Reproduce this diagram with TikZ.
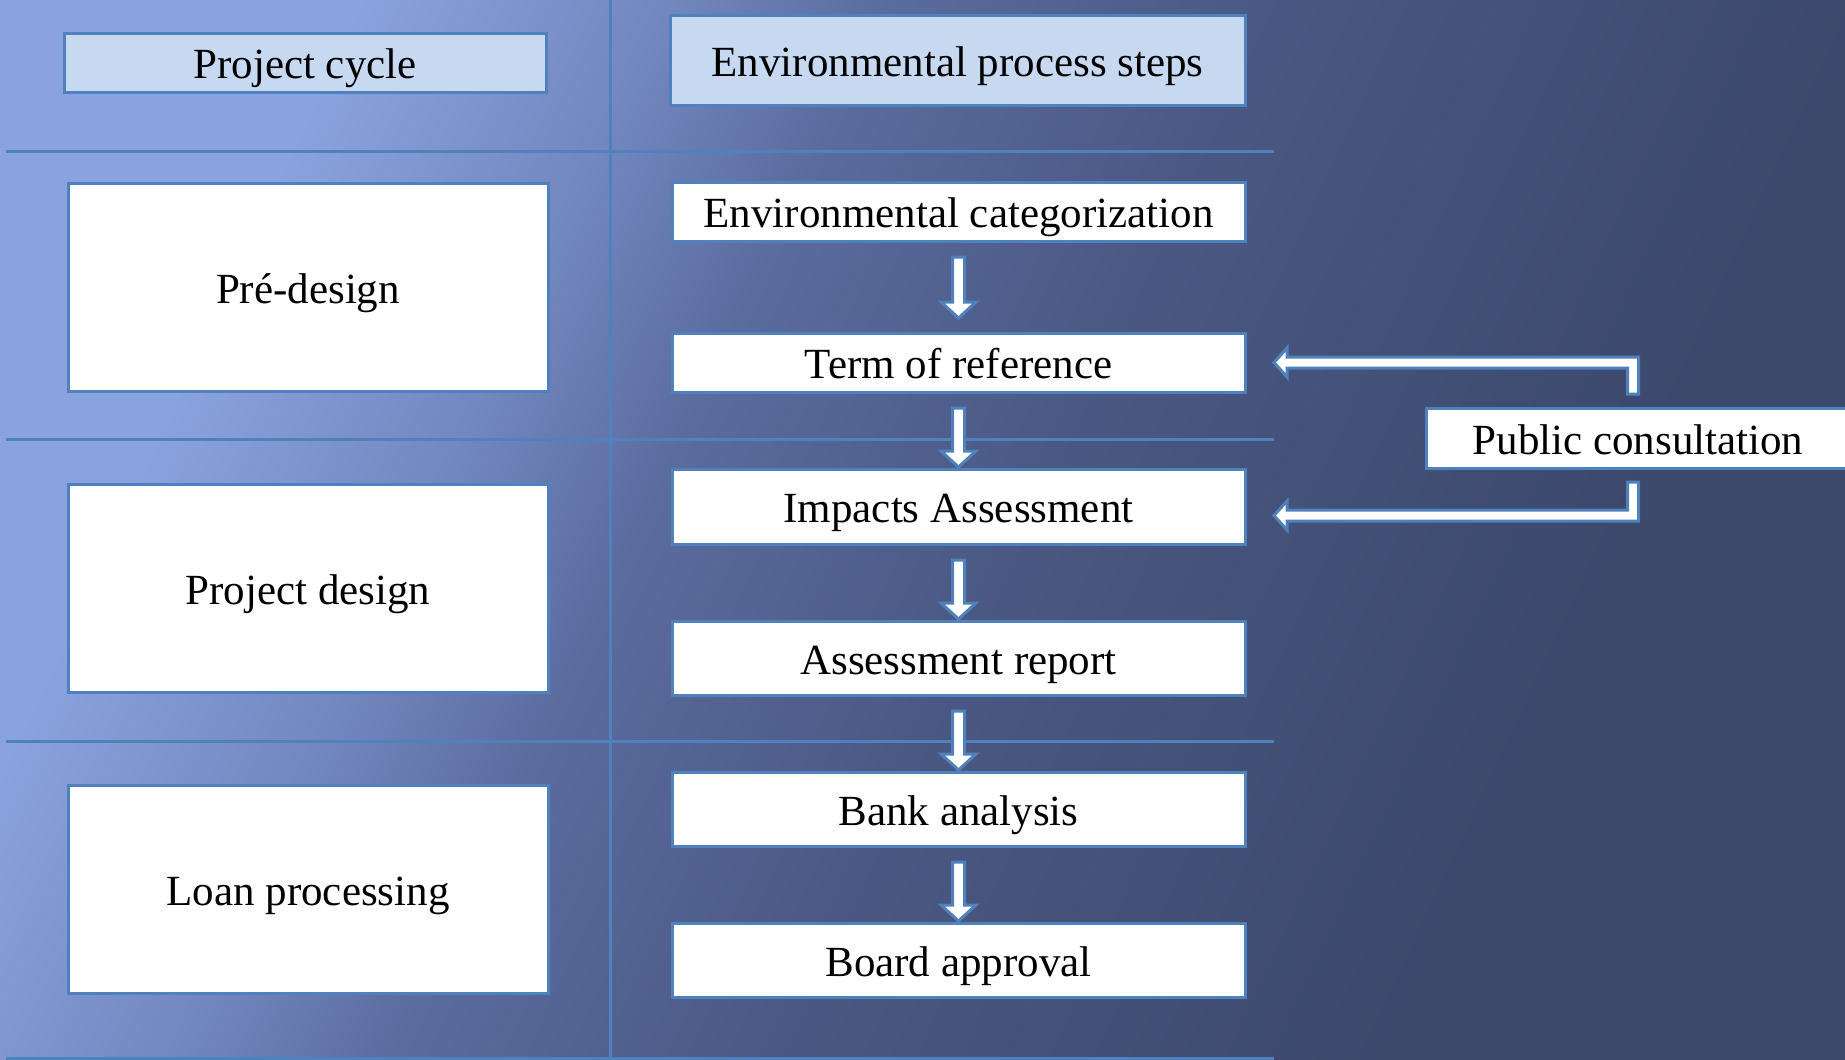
\documentclass[tikz,border=0pt]{standalone}
\usepackage{fontspec}
\setmainfont{Liberation Serif}
\usetikzlibrary{positioning,calc}

\definecolor{bordblue}{HTML}{4F81BD}
\definecolor{hdrfill}{HTML}{C6D9F1}
\definecolor{bgleft}{HTML}{8AA2DF}
\definecolor{bgmid}{HTML}{5A6B9E}
\definecolor{bgright}{HTML}{3C486C}

\pgfdeclarehorizontalshading{slidebg}{100bp}{color(0bp)=(bgleft); color(27bp)=(bgleft); color(36bp)=(bgleft!50!bgmid); color(42bp)=(bgmid); color(53bp)=(bgmid!45!bgright); color(70bp)=(bgright); color(100bp)=(bgright)}

\tikzset{
    boxbase/.style={draw=bordblue, line width=3pt, inner sep=0pt, outer sep=0pt, font=\fontsize{43}{50}\selectfont, text height=39pt, text depth=7pt},
    headbox/.style={boxbase, fill=hdrfill},
    cyclebox/.style={boxbase, fill=white, minimum width=480pt, minimum height=208pt},
    stepbox/.style={boxbase, fill=white, minimum width=573pt, minimum height=74pt},
    blockarr/.style={draw=bordblue, line width=3pt, fill=white, line join=miter},
    sepline/.style={bordblue, line width=3pt}
}

% block arrow pointing down, from one step box to the next
\newcommand{\blockdown}[3][2]{%
    \draw[blockarr] ($(#2.south)+(-6,16)$) -- ($(#3.north)+(-6,-#1-16)$)
        -- ($(#3.north)+(-17.5,-#1-16)$) -- ($(#3.north)+(0,-#1)$)
        -- ($(#3.north)+(17.5,-#1-16)$) -- ($(#3.north)+(6,-#1-16)$)
        -- ($(#2.south)+(6,16)$) -- cycle;}

\begin{document}
\begin{tikzpicture}[x=1pt, y=-1pt]
    \useasboundingbox (0,0) rectangle (1845,1060);
    \shade[shading=slidebg, shading angle=-25] (0,0) rectangle (1845,1060);

    % table lines
    \draw[sepline] (6,151) -- (1274,151);
    \draw[sepline] (6,439) -- (1274,439);
    \draw[sepline] (6,741) -- (1274,741);
    \draw[sepline] (6,1058) -- (1274,1058);
    \draw[sepline] (610,0) -- (610,1060);

    % headers
    \node[headbox, minimum width=482pt, minimum height=59pt] (cyc) at (305,62.5) {Project cycle};
    \node[headbox, minimum width=575pt, minimum height=90pt] (eps) at (957.5,60) {Environmental process steps};

    % project cycle
    \node[cyclebox] (pre) at (308,287) {Pré-design};
    \node[cyclebox, below=93pt of pre] (des) {Project design};
    \node[cyclebox, below=93pt of des] (loan) {Loan processing};

    % environmental steps
    \node[stepbox, minimum height=59pt] (cat) at (958.5,211.5) {Environmental categorization};
    \node[stepbox, minimum height=59pt, below=92pt of cat] (tor) {Term of reference};
    \node[stepbox, minimum height=75pt, below=77pt of tor] (imp) {Impacts Assessment};
    \node[stepbox, below=77pt of imp] (rep) {Assessment report};
    \node[stepbox, below=77pt of rep] (bank) {Bank analysis};
    \node[stepbox, below=77pt of bank] (board) {Board approval};

    \node[boxbase, fill=white, minimum width=424pt, minimum height=60pt] (pub) at (1638,438) {Public consultation};

    \blockdown[15]{cat}{tor}
    \blockdown{tor}{imp}
    \blockdown{imp}{rep}
    \blockdown{rep}{bank}
    \blockdown{bank}{board}

    % consultation feeds back into the steps
    \coordinate (up) at ($(pub.north)+(-5,-14)$);
    \coordinate (uc) at (up |- tor.east);
    \coordinate (ut) at ($(tor.east)+(29,0)$);
    \draw[blockarr] ($(up)+(-5.5,0)$) -- ($(uc)+(-5.5,5.5)$) -- ($(ut)+(13,5.5)$) -- ($(ut)+(13,14.5)$)
        -- (ut) -- ($(ut)+(13,-14.5)$) -- ($(ut)+(13,-5.5)$) -- ($(uc)+(5.5,-5.5)$) -- ($(up)+(5.5,0)$) -- cycle;

    \coordinate (dn) at ($(pub.south)+(-5,14)$);
    \coordinate (dc) at ($(dn |- imp.east)+(0,9)$);
    \coordinate (dt) at ($(imp.east)+(29,9)$);
    \draw[blockarr] ($(dn)+(-5.5,0)$) -- ($(dc)+(-5.5,-5.5)$) -- ($(dt)+(13,-5.5)$) -- ($(dt)+(13,-14.5)$)
        -- (dt) -- ($(dt)+(13,14.5)$) -- ($(dt)+(13,5.5)$) -- ($(dc)+(5.5,5.5)$) -- ($(dn)+(5.5,0)$) -- cycle;
\end{tikzpicture}
\end{document}
